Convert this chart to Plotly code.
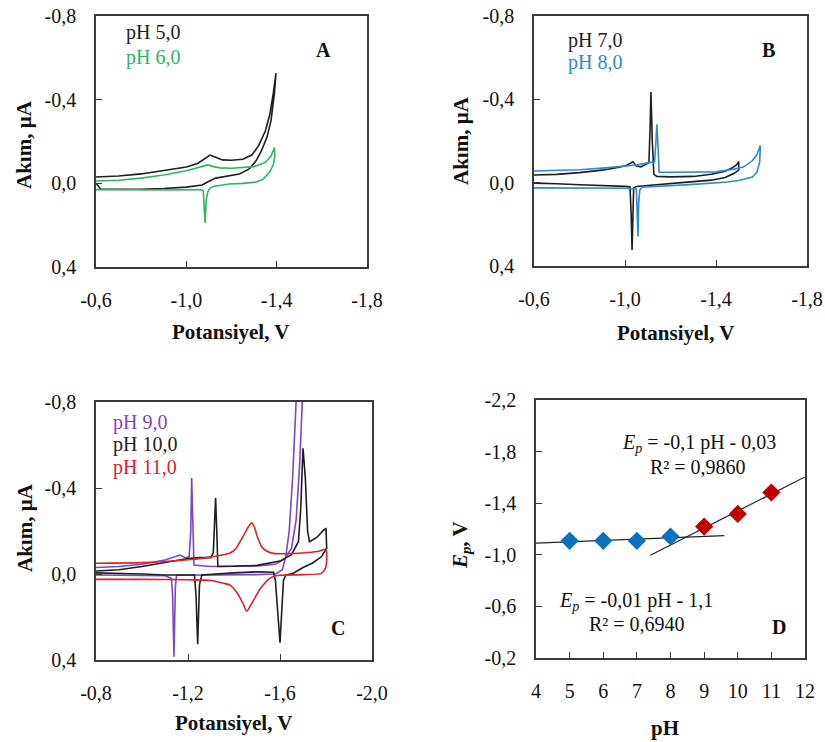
import numpy as np
import plotly.graph_objects as go

# ---------------- Panel A ----------------
A_pH5_E = [-0.6, -0.7, -0.8, -0.9, -1.0, -1.05, -1.08, -1.105, -1.13, -1.16, -1.2, -1.25, -1.29, -1.32, -1.35, -1.37, -1.385, -1.397,
           -1.39, -1.375, -1.357, -1.33, -1.31, -1.28, -1.235, -1.18, -1.13, -1.1, -1.07, -1.0, -0.9, -0.8, -0.62, -0.6]
A_pH5_I = [-0.03, -0.035, -0.045, -0.06, -0.078, -0.095, -0.115, -0.135, -0.125, -0.112, -0.11, -0.115, -0.135, -0.18, -0.25, -0.33, -0.43, -0.527,
           -0.43, -0.3, -0.22, -0.15, -0.11, -0.07, -0.045, -0.035, -0.025, -0.01, 0.008, 0.018, 0.025, 0.028, 0.027, 0.0]
A_pH6_E = [-0.6, -0.7, -0.8, -0.9, -1.0, -1.05, -1.095, -1.12, -1.15, -1.2, -1.25, -1.3, -1.35, -1.375, -1.39,
           -1.392, -1.385, -1.37, -1.34, -1.31, -1.25, -1.19, -1.12, -1.105, -1.095, -1.088, -1.083, -1.078, -1.075, -1.06, -0.9, -0.6]
A_pH6_I = [-0.011, -0.015, -0.025, -0.04, -0.06, -0.075, -0.088, -0.08, -0.074, -0.072, -0.075, -0.08, -0.1, -0.13, -0.17,
           -0.13, -0.09, -0.055, -0.02, -0.006, 0.0, 0.003, 0.015, 0.023, 0.04, 0.08, 0.19, 0.08, 0.035, 0.03, 0.032, 0.03]

# ---------------- Panel B ----------------
B_pH7_E = [-0.6, -0.7, -0.8, -0.9, -0.98, -1.01, -1.035, -1.05, -1.07, -1.09, -1.105, -1.11, -1.114, -1.12, -1.127, -1.14, -1.2, -1.3, -1.38, -1.44, -1.47, -1.49, -1.5,
           -1.5, -1.48, -1.44, -1.38, -1.3, -1.2, -1.1, -1.05, -1.038, -1.034, -1.031, -1.027, -1.022, -1.0, -0.9, -0.8, -0.7, -0.6]
B_pH7_I = [-0.037, -0.04, -0.048, -0.06, -0.075, -0.085, -0.1, -0.08, -0.076, -0.085, -0.095, -0.25, -0.435, -0.2, -0.04, -0.03, -0.028, -0.03, -0.04, -0.055, -0.07, -0.085, -0.1,
           -0.06, -0.045, -0.025, -0.012, -0.005, 0.005, 0.012, 0.018, 0.025, 0.15, 0.323, 0.15, 0.02, 0.018, 0.015, 0.01, 0.005, 0.002]
B_pH8_E = [-0.6, -0.7, -0.8, -0.9, -1.0, -1.05, -1.1, -1.13, -1.135, -1.14, -1.145, -1.15, -1.2, -1.3, -1.4, -1.48, -1.52, -1.56, -1.58, -1.595,
           -1.592, -1.58, -1.56, -1.5, -1.45, -1.3, -1.2, -1.1, -1.075, -1.065, -1.06, -1.057, -1.054, -1.052, -1.05, -1.0, -0.8, -0.6]
B_pH8_I = [-0.056, -0.058, -0.062, -0.07, -0.08, -0.085, -0.095, -0.1, -0.18, -0.28, -0.18, -0.05, -0.05, -0.05, -0.052, -0.065, -0.075, -0.105, -0.135, -0.178,
           -0.1, -0.05, -0.027, -0.01, -0.003, 0.008, 0.015, 0.02, 0.022, 0.035, 0.1, 0.258, 0.12, 0.05, 0.03, 0.027, 0.025, 0.025]

# ---------------- Panel C ----------------
C_pH9_E = [-0.8, -0.9, -1.0, -1.1, -1.165, -1.19, -1.205, -1.212, -1.216, -1.22, -1.226, -1.3, -1.4, -1.5, -1.58, -1.62, -1.65, -1.67, -1.685, -1.695, -1.705,
           -1.67, -1.655, -1.64, -1.625, -1.61, -1.58, -1.5, -1.3, -1.2, -1.15, -1.145, -1.139, -1.133, -1.128, -1.1, -1.0, -0.8]
C_pH9_I = [-0.03, -0.035, -0.045, -0.065, -0.088, -0.075, -0.08, -0.2, -0.446, -0.25, -0.042, -0.035, -0.035, -0.038, -0.045, -0.07, -0.12, -0.25, -0.5, -0.8, -1.0,
           -0.8, -0.45, -0.2, -0.08, -0.02, 0.0, 0.003, 0.003, 0.003, 0.006, 0.06, 0.385, 0.1, 0.02, 0.008, 0.008, 0.005]
C_pH10_E = [-0.8, -0.9, -1.0, -1.1, -1.2, -1.25, -1.3, -1.31, -1.32, -1.325, -1.33, -1.4, -1.5, -1.6, -1.65, -1.68, -1.69, -1.70, -1.71, -1.72, -1.728, -1.76, -1.79, -1.80,
            -1.803, -1.78, -1.74, -1.70, -1.66, -1.625, -1.615, -1.60, -1.59, -1.58, -1.572, -1.5, -1.4, -1.3, -1.26, -1.25, -1.242, -1.235, -1.228, -1.1, -1.0, -0.8]
C_pH10_I = [-0.014, -0.02, -0.035, -0.055, -0.072, -0.076, -0.076, -0.1, -0.355, -0.2, -0.035, -0.036, -0.04, -0.06, -0.09, -0.15, -0.3, -0.585, -0.45, -0.2, -0.15, -0.17, -0.205, -0.21,
            -0.12, -0.08, -0.05, -0.03, -0.005, 0.005, 0.03, 0.32, 0.15, 0.03, -0.008, -0.01, -0.005, 0.003, 0.005, 0.05, 0.327, 0.1, 0.005, 0.005, 0.0, -0.005]
C_pH11_E = [-0.8, -1.0, -1.1, -1.2, -1.28, -1.33, -1.383, -1.41, -1.426, -1.445, -1.46, -1.477, -1.49, -1.499, -1.51, -1.52, -1.54, -1.571, -1.65, -1.72, -1.77, -1.8,
            -1.802, -1.795, -1.78, -1.7, -1.6, -1.571, -1.55, -1.527, -1.51, -1.49, -1.47, -1.455, -1.44, -1.42, -1.40, -1.383, -1.35, -1.3, -1.2, -1.0, -0.8]
C_pH11_I = [-0.05, -0.053, -0.058, -0.066, -0.076, -0.085, -0.098, -0.12, -0.15, -0.185, -0.215, -0.238, -0.215, -0.181, -0.15, -0.127, -0.108, -0.096, -0.095, -0.1, -0.106, -0.115,
            -0.05, -0.02, -0.003, 0.003, 0.006, 0.012, 0.025, 0.051, 0.075, 0.113, 0.15, 0.173, 0.14, 0.098, 0.07, 0.052, 0.042, 0.03, 0.027, 0.025, 0.025]

# ---------------- Panel D ----------------
D_pH_low = [5, 6, 7, 8]
D_Ep_low = [-1.108, -1.108, -1.108, -1.142]
D_pH_high = [9, 10, 11]
D_Ep_high = [-1.219, -1.317, -1.483]
D_fit_low_range = [4, 9.6]
D_fit_high_range = [7.4, 12]

# Tick labels
A_xticks = [-0.6, -1.0, -1.4, -1.8]
A_xlabels = ["-0,6", "-1,0", "-1,4", "-1,8"]
C_xticks = [-0.8, -1.2, -1.6, -2.0]
C_xlabels = ["-0,8", "-1,2", "-1,6", "-2,0"]
I_ticks = [-0.8, -0.4, 0.0, 0.4]
I_labels = ["-0,8", "-0,4", "0,0", "0,4"]
D_xticks = [4, 5, 6, 7, 8, 9, 10, 11, 12]
D_xlabels = ["4", "5", "6", "7", "8", "9", "10", "11", "12"]
D_yticks = [-2.2, -1.8, -1.4, -1.0, -0.6, -0.2]
D_ylabels = ["-2,2", "-1,8", "-1,4", "-1,0", "-0,6", "-0,2"]

W, H = 825, 742
FONT = "Liberation Serif"
BLACK = "#1e1e1e"
GREEN = "#2DB562"
BLUE = "#3189D0"
PURPLE = "#7F45C3"
RED = "#E0202A"

def px(x):
    return x / W

def py(y):
    return 1 - y / H

fig = go.Figure()

def cv(E, I, color, xa, ya, shape="linear"):
    fig.add_trace(go.Scatter(x=E, y=I, mode="lines", line=dict(color=color, width=1.6, shape=shape, smoothing=0.6),
                             xaxis=xa, yaxis=ya, showlegend=False, hoverinfo="skip"))

cv(A_pH5_E, A_pH5_I, BLACK, "x", "y")
cv(A_pH6_E, A_pH6_I, GREEN, "x", "y")
cv(B_pH7_E, B_pH7_I, BLACK, "x2", "y2")
cv(B_pH8_E, B_pH8_I, BLUE, "x2", "y2")
cv(C_pH9_E, C_pH9_I, PURPLE, "x3", "y3")
cv(C_pH10_E, C_pH10_I, BLACK, "x3", "y3")
cv(C_pH11_E, C_pH11_I, RED, "x3", "y3", "spline")

# Panel D trend lines from fits of the data
p_low = np.polyfit(D_pH_low, D_Ep_low, 1)
p_high = np.polyfit(D_pH_high, D_Ep_high, 1)
xl = np.array(D_fit_low_range)
xh = np.array(D_fit_high_range)
fig.add_trace(go.Scatter(x=xl, y=np.polyval(p_low, xl), mode="lines", line=dict(color="#222", width=1.2),
                         xaxis="x4", yaxis="y4", showlegend=False))
fig.add_trace(go.Scatter(x=xh, y=np.polyval(p_high, xh), mode="lines", line=dict(color="#222", width=1.2),
                         xaxis="x4", yaxis="y4", showlegend=False))
fig.add_trace(go.Scatter(x=D_pH_low, y=D_Ep_low, mode="markers",
                         marker=dict(symbol="diamond", size=14, color="#0A70C0"),
                         xaxis="x4", yaxis="y4", showlegend=False))
fig.add_trace(go.Scatter(x=D_pH_high, y=D_Ep_high, mode="markers",
                         marker=dict(symbol="diamond", size=14, color="#C00000"),
                         xaxis="x4", yaxis="y4", showlegend=False))

axis_common = dict(showline=True, mirror=True, linecolor="#3a3a3a", linewidth=1.5,
                   ticks="inside", ticklen=6, tickcolor="#3a3a3a", tickwidth=1.3,
                   showgrid=False, zeroline=False, automargin=False,
                   tickfont=dict(family=FONT, size=20, color="#111"))

def xaxis(domain, rng, tv, tt, anchor):
    d = dict(axis_common)
    d.update(domain=domain, range=rng, tickvals=tv, ticktext=tt, anchor=anchor, ticklabelstandoff=14)
    return d

def yaxis(domain, rng, tv, tt, anchor):
    d = dict(axis_common)
    d.update(domain=domain, range=rng, tickvals=tv, ticktext=tt, anchor=anchor, ticklabelstandoff=14)
    return d

fig.update_layout(
    template="none",
    width=W, height=H,
    margin=dict(l=0, r=0, t=0, b=0, autoexpand=False),
    paper_bgcolor="white", plot_bgcolor="white",
    showlegend=False,
    font=dict(family=FONT),
    xaxis=xaxis([px(96), px(367)], [-0.6, -1.8], A_xticks, A_xlabels, "y"),
    yaxis=yaxis([py(267), py(16)], [0.4, -0.8], I_ticks, I_labels, "x"),
    xaxis2=xaxis([px(534), px(807)], [-0.6, -1.8], A_xticks, A_xlabels, "y2"),
    yaxis2=yaxis([py(266), py(16)], [0.4, -0.8], I_ticks, I_labels, "x2"),
    xaxis3=xaxis([px(96), px(372)], [-0.8, -2.0], C_xticks, C_xlabels, "y3"),
    yaxis3=yaxis([py(660), py(402)], [0.4, -0.8], I_ticks, I_labels, "x3"),
    xaxis4=xaxis([px(536), px(805)], [4, 12], D_xticks, D_xlabels, "y4"),
    yaxis4=yaxis([py(658), py(400)], [-0.2, -2.2], D_yticks, D_ylabels, "x4"),
)

def txt(x, y, s, size=20, color="#111", xanchor="center", angle=0):
    fig.add_annotation(x=px(x), y=py(y), xref="paper", yref="paper", text=s, showarrow=False,
                       xanchor=xanchor, yanchor="middle", textangle=angle,
                       font=dict(family=FONT, size=size, color=color))

# axis titles
txt(230, 332, "<b>Potansiyel, V</b>", 21)
txt(24, 145, "<b>Akım, µA</b>", 21, angle=-90)
txt(675, 333, "<b>Potansiyel, V</b>", 21)
txt(461, 141, "<b>Akım, µA</b>", 21, angle=-90)
txt(233, 723, "<b>Potansiyel, V</b>", 21)
txt(25, 528, "<b>Akım, µA</b>", 21, angle=-90)
txt(665, 728, "<b>pH</b>", 21)
txt(461, 545, "<b><i>E</i><sub><i>p</i></sub>, V</b>", 21, angle=-90)

# series labels
txt(124, 33, "pH 5,0", 20, BLACK, "left")
txt(124, 57, "pH 6,0", 20, GREEN, "left")
txt(566, 40, "pH 7,0", 20, BLACK, "left")
txt(566, 63, "pH 8,0", 20, BLUE, "left")
txt(111, 422, "pH 9,0", 20, PURPLE, "left")
txt(111, 444, "pH 10,0", 20, BLACK, "left")
txt(111, 467, "pH 11,0", 20, RED, "left")

# panel letters
txt(323, 50, "<b>A</b>", 20)
txt(768, 50, "<b>B</b>", 20)
txt(338, 628, "<b>C</b>", 20)
txt(779, 627, "<b>D</b>", 20)

# equations
txt(699, 443, "<i>E<sub>p</sub></i> = -0,1 pH - 0,03", 20)
txt(698, 467, "R² = 0,9860", 20)
txt(636, 601, "<i>E<sub>p</sub></i> = -0,01 pH - 1,1", 20)
txt(637, 624, "R² = 0,6940", 20)

fig.write_html("out.html")
